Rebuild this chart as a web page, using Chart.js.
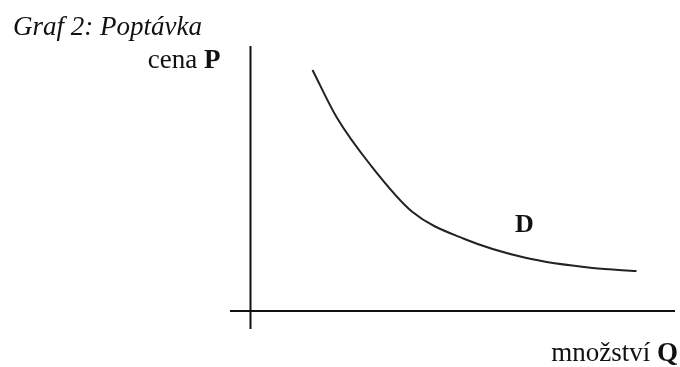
<!DOCTYPE html>
<html>
<head>
<meta charset="utf-8">
<script src="https://cdn.jsdelivr.net/npm/chart.js@4"></script>
<style>
  html, body { margin: 0; padding: 0; background: #fff; }
  #demand { display: block; }
</style>
</head>
<body>
<canvas id="demand" width="680" height="367"></canvas>
<script>
// demand curve D: quantity (x) vs price (y)
const quantity = [3.1, 4.3, 6.0, 8.1, 10.7, 13.8, 17.1, 19.3]
const price = [12.05, 9.7, 7.3, 4.95, 3.6, 2.65, 2.15, 2.0]

const titleText = 'Graf 2: Poptávka'
const yAxisLabel = ['cena ', 'P']
const xAxisLabel = ['množství ', 'Q']
const curveLabel = 'D'

const SERIF = '"Liberation Serif", "Times New Roman", serif'

// draws the two crossing axes and all of the text
const axesAndLabels = {
  id: 'axesAndLabels',
  beforeDatasetsDraw (chart) {
    const { ctx, scales: { x, y } } = chart
    const x0 = x.getPixelForValue(0)
    const y0 = y.getPixelForValue(0)
    ctx.save()
    ctx.strokeStyle = '#111'
    ctx.lineWidth = 2
    ctx.beginPath()
    ctx.moveTo(x0, y.top)
    ctx.lineTo(x0, y.bottom)
    ctx.moveTo(x.left, y0)
    ctx.lineTo(x.right, y0)
    ctx.stroke()
    ctx.restore()
  },
  afterDraw (chart) {
    const { ctx, scales: { x, y } } = chart
    const x0 = x.getPixelForValue(0)
    ctx.save()
    ctx.fillStyle = '#111'
    ctx.textBaseline = 'alphabetic'

    ctx.font = 'italic 27px ' + SERIF
    ctx.textAlign = 'left'
    ctx.fillText(titleText, 13, 35)

    // "cena P" sits left of the top of the price axis
    drawPair(ctx, yAxisLabel, x0 - 30, 68)
    // "množství Q" below the right end of the quantity axis
    drawPair(ctx, xAxisLabel, 678, 361)

    ctx.font = 'bold 26px ' + SERIF
    ctx.textAlign = 'center'
    ctx.fillText(curveLabel, x.getPixelForValue(13.7), y.getPixelForValue(3.95))
    ctx.restore()
  }
}

// regular word followed by a bold letter, right aligned at xr
function drawPair (ctx, parts, xr, baseline) {
  ctx.font = 'bold 27px ' + SERIF
  const wb = ctx.measureText(parts[1]).width
  ctx.textAlign = 'left'
  ctx.fillText(parts[1], xr - wb, baseline)
  ctx.font = '27px ' + SERIF
  const wr = ctx.measureText(parts[0]).width
  ctx.fillText(parts[0], xr - wb - wr, baseline)
}

new Chart(document.getElementById('demand'), {
  type: 'line',
  data: {
    datasets: [{
      data: quantity.map((q, i) => ({ x: q, y: price[i] })),
      borderColor: '#222',
      borderWidth: 2,
      pointRadius: 0,
      fill: false,
      cubicInterpolationMode: 'monotone'
    }]
  },
  options: {
    responsive: false,
    animation: false,
    layout: { padding: { left: 230, right: 5, top: 46, bottom: 38 } },
    plugins: {
      legend: { display: false },
      tooltip: { enabled: false }
    },
    scales: {
      x: { type: 'linear', display: false, min: -1.025, max: 21.225 },
      y: { type: 'linear', display: false, min: -0.9, max: 13.25 }
    }
  },
  plugins: [axesAndLabels]
})
</script>
</body>
</html>
